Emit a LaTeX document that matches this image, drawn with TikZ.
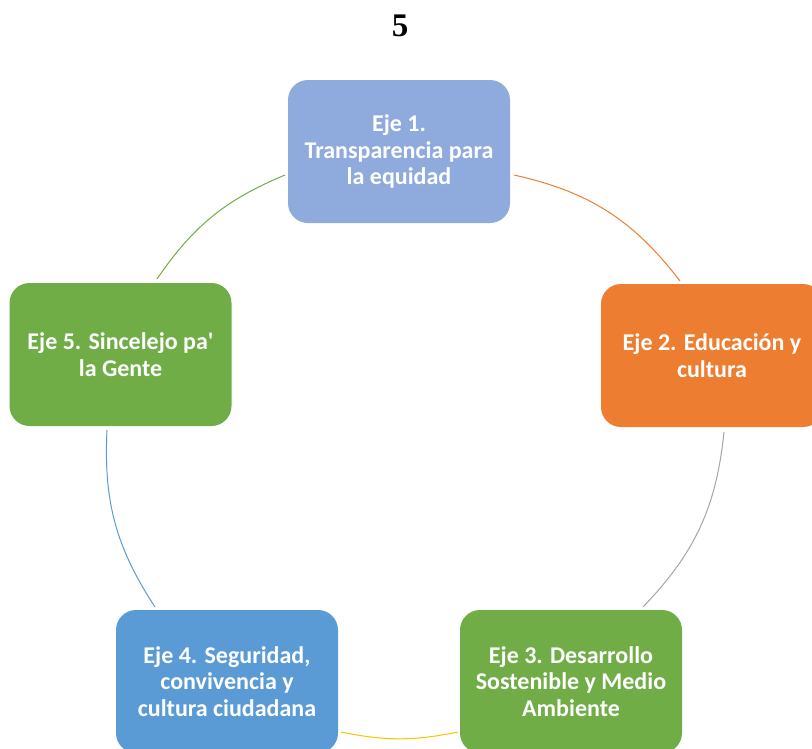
\documentclass[tikz,border=0pt]{standalone}
\usepackage{fontspec}
\newfontfamily\carl{Carlito}
\newfontfamily\tnr{Liberation Serif}
\definecolor{boxa}{HTML}{8FAADC}
\definecolor{boxb}{HTML}{ED7D31}
\definecolor{boxc}{HTML}{70AD47}
\definecolor{boxd}{HTML}{5B9BD5}
\definecolor{arcgray}{HTML}{A5A5A5}
\definecolor{arcgold}{HTML}{FFC000}
\tikzset{
  ejebox/.style={rectangle, rounded corners=20pt, minimum width=222pt, minimum height=143pt,
    inner sep=0pt, text=white, align=center,
    font=\carl\bfseries\fontsize{24}{26.5}\selectfont},
  cyc/.style={line width=1pt}
}
\begin{document}
\begin{tikzpicture}[x=1pt,y=-1pt]
\useasboundingbox (0,0) rectangle (812,748);
\clip (0,0) rectangle (812,748);
\node[font=\tnr\bfseries\fontsize{33}{36}\selectfont] (title) at (400,26) {5};
\node[ejebox, fill=boxa] (e1) at (399,151.5) {Eje 1.\\Transparencia para\\la equidad};
\node[ejebox, fill=boxb] (e2) at (712,355.5) {Eje 2. Educación y\\cultura};
\node[ejebox, fill=boxc] (e3) at (571,681.5) {Eje 3. Desarrollo\\Sostenible y Medio\\Ambiente};
\node[ejebox, fill=boxd] (e4) at (227,681.5) {Eje 4. Seguridad,\\convivencia y\\cultura ciudadana};
\node[ejebox, fill=boxc] (e5) at (120.5,354.5) {Eje 5. Sincelejo pa'\\la Gente};
\coordinate (a1) at (514,175);
\coordinate (b1) at (680,281);
\coordinate (a2) at (724,432);
\coordinate (b2) at (643,607);
\coordinate (a3) at (458,732);
\coordinate (b3) at (341,732);
\coordinate (a4) at (155,607);
\coordinate (b4) at (107,430);
\coordinate (a5) at (157,279);
\coordinate (b5) at (285,175);
\draw[cyc, boxb] (a1) to[bend left=20] (b1);
\draw[cyc, arcgray] (a2) to[bend left=19] (b2);
\draw[cyc, arcgold] (a3) to[bend left=11.5] (b3);
\draw[cyc, boxd] (a4) to[bend left=18] (b4);
\draw[cyc, boxc] (a5) to[bend left=16.5] (b5);
\end{tikzpicture}
\end{document}
